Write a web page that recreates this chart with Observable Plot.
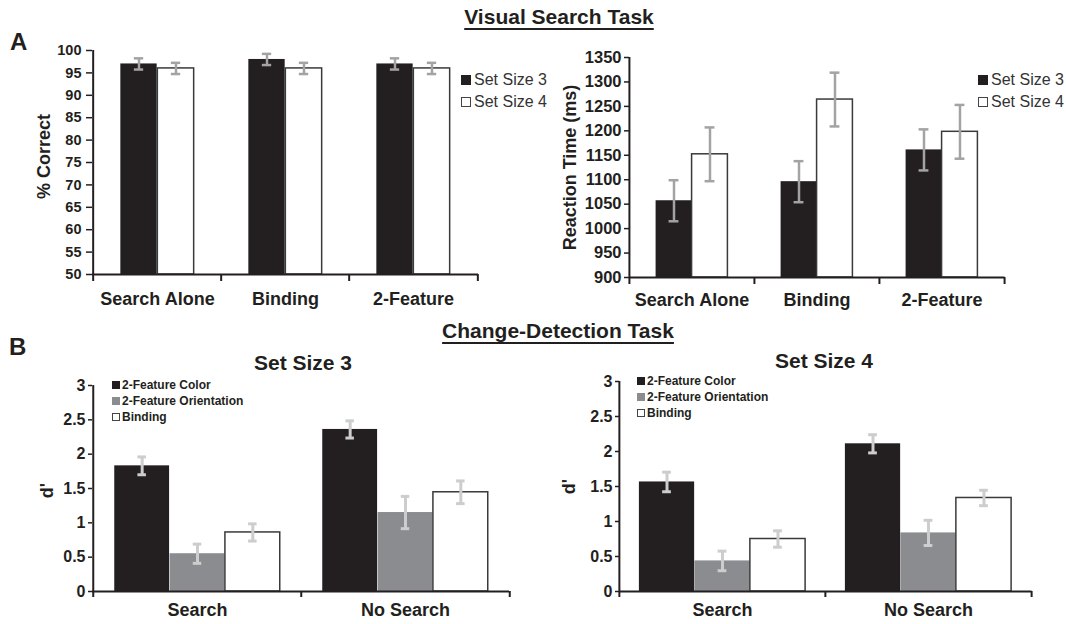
<!DOCTYPE html>
<html><head><meta charset="utf-8">
<script src="https://cdn.jsdelivr.net/npm/d3@7"></script>
<script src="https://cdn.jsdelivr.net/npm/@observablehq/plot@0.6"></script>
<style>
body{margin:0;background:#fff;font-family:"Liberation Sans",Arial,Helvetica,sans-serif;color:#231f20}
#fig{position:relative;width:1066px;height:624px;overflow:hidden;background:#fff}
.t{position:absolute;white-space:nowrap;line-height:1}
.ttl{font-weight:bold;font-size:21px;text-decoration:underline;text-decoration-thickness:2px;text-underline-offset:4px;transform:translateX(-50%)}
.sub{font-weight:bold;font-size:21px;transform:translateX(-50%)}
.lab{font-weight:bold;font-size:24px}
.lgA{font-size:16px;color:#333;display:flex;align-items:center}
.lgB{font-size:12px;font-weight:bold;display:flex;align-items:center}
.sw{display:inline-block;box-sizing:border-box}
</style></head><body><div id="fig"></div><script>
// ---------- data ----------
const searchCats = ["Search Alone", "Binding", "2-Feature"];
const setSizes = ["Set Size 3", "Set Size 4"];
const pctCorrect3 = [97, 98, 97];
const pctCorrect4 = [96, 96, 96];
const pctErr3 = [1.25, 1.25, 1.25];
const pctErr4 = [1.25, 1.25, 1.25];
const pctTicks = [50, 55, 60, 65, 70, 75, 80, 85, 90, 95, 100];
const rt3 = [1057, 1096, 1161];
const rt4 = [1152, 1264, 1198];
const rtErr3 = [42, 42, 42];
const rtErr4 = [55, 55, 55];
const rtTicks = [900, 950, 1000, 1050, 1100, 1150, 1200, 1250, 1300, 1350];

const cdCats = ["Search", "No Search"];
const cdConds = ["2-Feature Color", "2-Feature Orientation", "Binding"];
const ss3Color = [1.83, 2.36];
const ss3Orient = [0.55, 1.15];
const ss3Bind = [0.86, 1.445];
const ss3ColorErr = [0.13, 0.125];
const ss3OrientErr = [0.14, 0.235];
const ss3BindErr = [0.125, 0.165];
const ss4Color = [1.565, 2.11];
const ss4Orient = [0.437, 0.837];
const ss4Bind = [0.75, 1.336];
const ss4ColorErr = [0.14, 0.13];
const ss4OrientErr = [0.14, 0.18];
const ss4BindErr = [0.117, 0.11];
const dTicks = [0, 0.5, 1, 1.5, 2, 2.5, 3];

// ---------- styles ----------
const FONT = '"Liberation Sans", Arial, Helvetica, sans-serif';
const INK = "#231f20";
const BLACK = "#231f20", GRAY = "#8b8c8f", WHITE = "#ffffff";

function panel(cfg) {
  const {cats, series, values, errors, fills, strokes, yDomain, yTicks, yLabel, labelDx, labelDy,
    width, height, margin, groupFrac, tickFont, catFont, catPad, yTickSize, yTickPad,
    errColor, errWidth, capW, bTick} = cfg;
  const [mt, mr, mb, ml] = margin;
  const bw = (width - ml - mr) / cats.length;
  const gw = bw * groupFrac, pad = (bw - gw) / 2, barW = gw / series.length;
  const [y0] = yDomain;
  const marks = [];
  const rowsBy = series.map((s, j) => cats.map((c, i) => ({cat: c, series: s, v: values[j][i], e: errors[j][i]})));
  series.forEach((s, j) => {
    marks.push(Plot.barY(rowsBy[j], {
      x: "cat", y1: y0, y2: "v", fill: fills[j],
      stroke: strokes[j] || "none", strokeWidth: 1.5,
      insetLeft: pad + j * barW, insetRight: bw - pad - (j + 1) * barW
    }));
  });
  series.forEach((s, j) => {
    const cx = pad + (j + 0.5) * barW;
    marks.push(Plot.ruleX(rowsBy[j], {x: "cat", y1: d => d.v - d.e, y2: d => d.v + d.e, dx: cx - bw / 2, stroke: errColor, strokeWidth: errWidth}));
    for (const sign of [1, -1]) {
      marks.push(Plot.tickY(rowsBy[j], {x: "cat", y: d => d.v + sign * d.e, insetLeft: cx - capW / 2, insetRight: bw - cx - capW / 2, stroke: errColor, strokeWidth: errWidth}));
    }
  });
  marks.push(
    Plot.ruleY([y0], {stroke: INK, strokeWidth: 2}),
    Plot.ruleX([cats[0]], {dx: -bw / 2, stroke: INK, strokeWidth: 2}),
    Plot.axisY({ticks: yTicks, tickSize: yTickSize, tickPadding: yTickPad, tickFormat: d => String(d), fontSize: tickFont, fontWeight: "bold", label: null, stroke: INK, strokeWidth: 1.5, fill: INK}),
    Plot.axisX({tickSize: 0, tickPadding: catPad, fontSize: catFont, fontWeight: "bold", label: null, fill: INK}),
    Plot.axisX({ticks: cats, tickSize: bTick, tickFormat: () => "", dx: -bw / 2, label: null, stroke: INK, strokeWidth: 2}),
    Plot.axisX({ticks: [cats[cats.length - 1]], tickSize: bTick, tickFormat: () => "", dx: bw / 2, label: null, stroke: INK, strokeWidth: 2}),
    Plot.text([yLabel], {text: d => d, frameAnchor: "left", textAnchor: "middle", rotate: -90, dx: labelDx, dy: labelDy, fontSize: 18, fontWeight: "bold", fill: INK})
  );
  return Plot.plot({
    width, height, marginTop: mt, marginRight: mr, marginBottom: mb, marginLeft: ml,
    style: {fontFamily: FONT, color: INK, background: "transparent", overflow: "visible"},
    x: {domain: cats, padding: 0},
    y: {domain: yDomain},
    marks
  });
}

const fig = document.getElementById("fig");
function place(el, left, top) {
  el.style.position = "absolute"; el.style.left = left + "px"; el.style.top = top + "px";
  fig.appendChild(el);
}

// Panel A left: % correct
place(panel({
  cats: searchCats, series: setSizes, values: [pctCorrect3, pctCorrect4], errors: [pctErr3, pctErr4],
  fills: [BLACK, WHITE], strokes: [null, "#3a3a3a"], yDomain: [50, 100], yTicks: pctTicks,
  yLabel: "% Correct", labelDx: -48, labelDy: -6,
  width: 540, height: 310, margin: [50, 62, 36, 92], groupFrac: 74 / 128.7,
  tickFont: 14.5, catFont: 18, catPad: 18, yTickSize: 6, yTickPad: 5,
  errColor: "#a3a3a3", errWidth: 2.5, capW: 10, bTick: 7
}), 0, 0);

// Panel A right: reaction time
place(panel({
  cats: searchCats, series: setSizes, values: [rt3, rt4], errors: [rtErr3, rtErr4],
  fills: [BLACK, WHITE], strokes: [null, "#3a3a3a"], yDomain: [900, 1350], yTicks: rtTicks,
  yLabel: "Reaction Time (ms)", labelDx: -59, labelDy: 0,
  width: 536, height: 310, margin: [57, 61.5, 33, 99], groupFrac: 72 / 125.2,
  tickFont: 16.5, catFont: 18, catPad: 16, yTickSize: 5, yTickPad: 3,
  errColor: "#a3a3a3", errWidth: 2.5, capW: 10, bTick: 7
}), 530, 0);

// Panel B left: set size 3 d'
place(panel({
  cats: cdCats, series: cdConds, values: [ss3Color, ss3Orient, ss3Bind], errors: [ss3ColorErr, ss3OrientErr, ss3BindErr],
  fills: [BLACK, GRAY, WHITE], strokes: [null, null, "#3a3a3a"], yDomain: [0, 3], yTicks: dTicks,
  yLabel: "d'", labelDx: -45.5, labelDy: 2,
  width: 540, height: 254, margin: [15, 31, 33, 92], groupFrac: 166 / 208.5,
  tickFont: 16, catFont: 18, catPad: 12, yTickSize: 4, yTickPad: 3,
  errColor: "#cdcdcd", errWidth: 3, capW: 9, bTick: 6
}), 0, 370);

// Panel B right: set size 4 d'
place(panel({
  cats: cdCats, series: cdConds, values: [ss4Color, ss4Orient, ss4Bind], errors: [ss4ColorErr, ss4OrientErr, ss4BindErr],
  fills: [BLACK, GRAY, WHITE], strokes: [null, null, "#3a3a3a"], yDomain: [0, 3], yTicks: dTicks,
  yLabel: "d'", labelDx: -50.5, labelDy: 0,
  width: 536, height: 254, margin: [11, 34.5, 33, 89], groupFrac: 166.5 / 206.3,
  tickFont: 16, catFont: 18, catPad: 12, yTickSize: 4, yTickPad: 3,
  errColor: "#cdcdcd", errWidth: 3, capW: 9, bTick: 6
}), 530, 370);

// ---------- text ----------
function txt(cls, str, left, top) {
  const d = document.createElement("div");
  d.className = "t " + cls; d.textContent = str;
  d.style.left = left + "px"; d.style.top = top + "px";
  fig.appendChild(d); return d;
}
txt("ttl", "Visual Search Task", 559, 6);
txt("ttl", "Change-Detection Task", 558, 320);
txt("lab", "A", 10, 29.5);
txt("lab", "B", 9, 334.5);
txt("sub", "Set Size 3", 303, 352);
txt("sub", "Set Size 4", 824, 350);

function legend(cls, items, left, tops, sw) {
  items.forEach((it, i) => {
    const d = document.createElement("div");
    d.className = "t " + cls;
    d.style.left = left + "px"; d.style.top = tops[i] + "px";
    const s = document.createElement("span");
    s.className = "sw";
    s.style.width = sw + "px"; s.style.height = sw + "px"; s.style.marginRight = (cls === "lgA" ? 3 : 2) + "px";
    s.style.background = it.fill;
    s.style.border = it.fill === WHITE ? "1px solid #444" : "none";
    d.appendChild(s);
    d.appendChild(document.createTextNode(it.label));
    fig.appendChild(d);
  });
}
const legA = setSizes.map((s, i) => ({label: s, fill: [BLACK, WHITE][i]}));
const legB = cdConds.map((s, i) => ({label: s, fill: [BLACK, GRAY, WHITE][i]}));
legend("lgA", legA, 461, [72, 93.7], 10);
legend("lgA", legA, 978, [72, 93.7], 10);
legend("lgB", legB, 112, [379, 395, 411], 8);
legend("lgB", legB, 637, [375, 391, 407], 8);
</script></body></html>
